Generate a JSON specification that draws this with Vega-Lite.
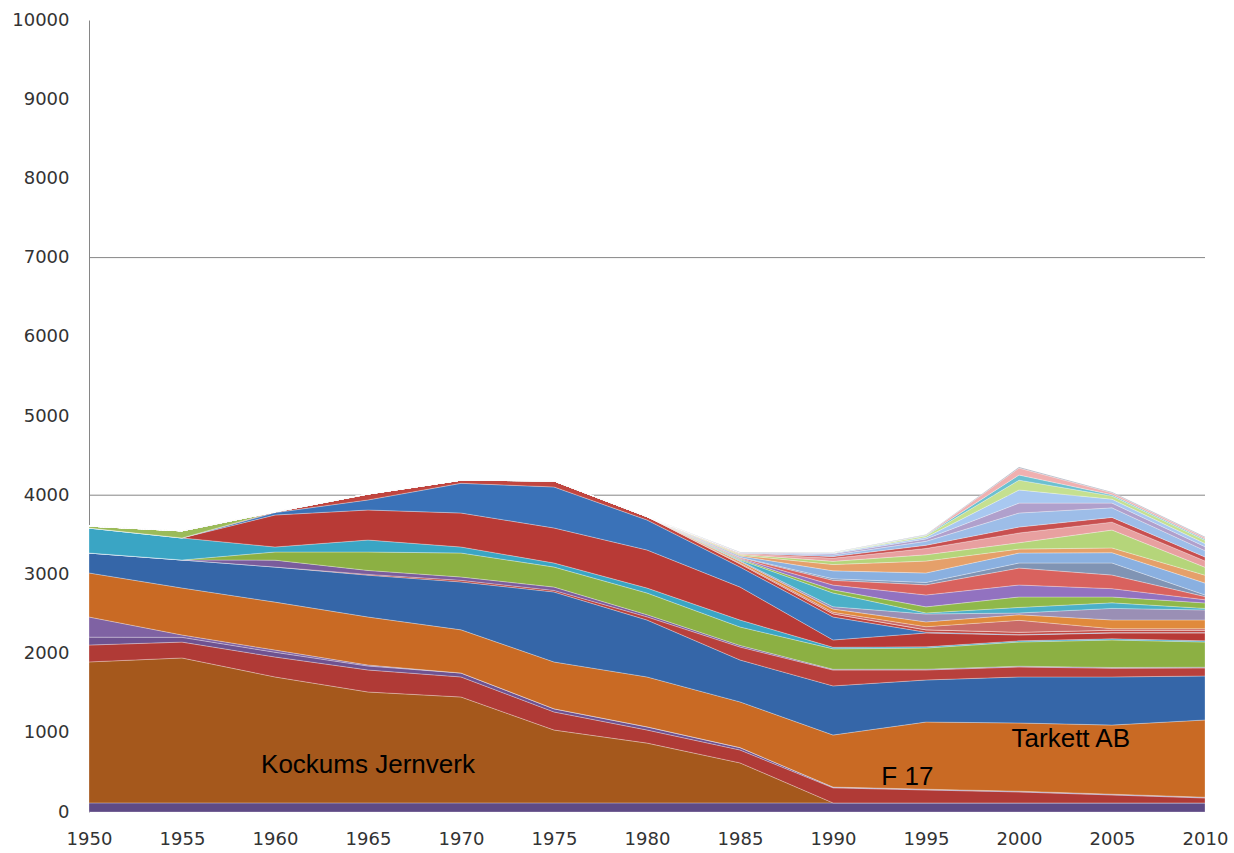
{
 "$schema": "https://vega.github.io/schema/vega-lite/v6.json",
 "width": 1116, "height": 792,
 "autosize": "none",
 "padding": {"left": 89, "top": 20, "right": 29, "bottom": 41},
 "background": "white",
 "config": {"view": {"stroke": null}, "font": "DejaVu Sans"},
 "layer": [
  {
   "data": {"values": [{"v": 4000}, {"v": 7000}]},
   "mark": {"type": "rule", "color": "#868686", "strokeWidth": 1},
   "encoding": {"y": {"field": "v", "type": "quantitative", "title": null, "scale": {"domain": [0, 10000], "nice": false}}}
  },
  {
   "data": {"values": [
{"k":1,"x":1950,"v":115},{"k":1,"x":1955,"v":115},{"k":1,"x":1960,"v":115},{"k":1,"x":1965,"v":115},{"k":1,"x":1970,"v":115},{"k":1,"x":1975,"v":115},{"k":1,"x":1980,"v":115},{"k":1,"x":1985,"v":115},{"k":1,"x":1990,"v":115},{"k":1,"x":1995,"v":115},{"k":1,"x":2000,"v":115},{"k":1,"x":2005,"v":115},{"k":1,"x":2010,"v":115},
{"k":2,"x":1950,"v":1780},{"k":2,"x":1955,"v":1830},{"k":2,"x":1960,"v":1590},{"k":2,"x":1965,"v":1400},{"k":2,"x":1970,"v":1337},{"k":2,"x":1975,"v":920},{"k":2,"x":1980,"v":755},{"k":2,"x":1985,"v":505},{"k":2,"x":1990,"v":0},{"k":2,"x":1995,"v":0},{"k":2,"x":2000,"v":0},{"k":2,"x":2005,"v":0},{"k":2,"x":2010,"v":0},
{"k":3,"x":1950,"v":213},{"k":3,"x":1955,"v":200},{"k":3,"x":1960,"v":252},{"k":3,"x":1965,"v":278},{"k":3,"x":1970,"v":253},{"k":3,"x":1975,"v":228},{"k":3,"x":1980,"v":165},{"k":3,"x":1985,"v":163},{"k":3,"x":1990,"v":190},{"k":3,"x":1995,"v":163},{"k":3,"x":2000,"v":138},{"k":3,"x":2005,"v":100},{"k":3,"x":2010,"v":62},
{"k":4,"x":1950,"v":100},{"k":4,"x":1955,"v":60},{"k":4,"x":1960,"v":60},{"k":4,"x":1965,"v":50},{"k":4,"x":1970,"v":50},{"k":4,"x":1975,"v":40},{"k":4,"x":1980,"v":40},{"k":4,"x":1985,"v":30},{"k":4,"x":1990,"v":10},{"k":4,"x":1995,"v":10},{"k":4,"x":2000,"v":10},{"k":4,"x":2005,"v":10},{"k":4,"x":2010,"v":10},
{"k":5,"x":1950,"v":254},{"k":5,"x":1955,"v":30},{"k":5,"x":1960,"v":28},{"k":5,"x":1965,"v":13},{"k":5,"x":1970,"v":0},{"k":5,"x":1975,"v":0},{"k":5,"x":1980,"v":0},{"k":5,"x":1985,"v":0},{"k":5,"x":1990,"v":0},{"k":5,"x":1995,"v":0},{"k":5,"x":2000,"v":0},{"k":5,"x":2005,"v":0},{"k":5,"x":2010,"v":0},
{"k":6,"x":1950,"v":556},{"k":6,"x":1955,"v":593},{"k":6,"x":1960,"v":605},{"k":6,"x":1965,"v":606},{"k":6,"x":1970,"v":545},{"k":6,"x":1975,"v":591},{"k":6,"x":1980,"v":630},{"k":6,"x":1985,"v":577},{"k":6,"x":1990,"v":657},{"k":6,"x":1995,"v":848},{"k":6,"x":2000,"v":861},{"k":6,"x":2005,"v":873},{"k":6,"x":2010,"v":975},
{"k":7,"x":1950,"v":252},{"k":7,"x":1955,"v":354},{"k":7,"x":1960,"v":443},{"k":7,"x":1965,"v":528},{"k":7,"x":1970,"v":605},{"k":7,"x":1975,"v":884},{"k":7,"x":1980,"v":719},{"k":7,"x":1985,"v":529},{"k":7,"x":1990,"v":620},{"k":7,"x":1995,"v":531},{"k":7,"x":2000,"v":581},{"k":7,"x":2005,"v":607},{"k":7,"x":2010,"v":555},
{"k":8,"x":1950,"v":0},{"k":8,"x":1955,"v":0},{"k":8,"x":1960,"v":0},{"k":8,"x":1965,"v":10},{"k":8,"x":1970,"v":20},{"k":8,"x":1975,"v":20},{"k":8,"x":1980,"v":40},{"k":8,"x":1985,"v":164},{"k":8,"x":1990,"v":200},{"k":8,"x":1995,"v":126},{"k":8,"x":2000,"v":126},{"k":8,"x":2005,"v":110},{"k":8,"x":2010,"v":101},
{"k":9,"x":1950,"v":0},{"k":9,"x":1955,"v":0},{"k":9,"x":1960,"v":87},{"k":9,"x":1965,"v":50},{"k":9,"x":1970,"v":42},{"k":9,"x":1975,"v":42},{"k":9,"x":1980,"v":26},{"k":9,"x":1985,"v":20},{"k":9,"x":1990,"v":10},{"k":9,"x":1995,"v":10},{"k":9,"x":2000,"v":10},{"k":9,"x":2005,"v":10},{"k":9,"x":2010,"v":10},
{"k":10,"x":1950,"v":0},{"k":10,"x":1955,"v":0},{"k":10,"x":1960,"v":103},{"k":10,"x":1965,"v":233},{"k":10,"x":1970,"v":303},{"k":10,"x":1975,"v":253},{"k":10,"x":1980,"v":275},{"k":10,"x":1985,"v":233},{"k":10,"x":1990,"v":258},{"k":10,"x":1995,"v":267},{"k":10,"x":2000,"v":305},{"k":10,"x":2005,"v":347},{"k":10,"x":2010,"v":318},
{"k":11,"x":1950,"v":315},{"k":11,"x":1955,"v":278},{"k":11,"x":1960,"v":63},{"k":11,"x":1965,"v":151},{"k":11,"x":1970,"v":76},{"k":11,"x":1975,"v":51},{"k":11,"x":1980,"v":63},{"k":11,"x":1985,"v":88},{"k":11,"x":1990,"v":20},{"k":11,"x":1995,"v":15},{"k":11,"x":2000,"v":15},{"k":11,"x":2005,"v":15},{"k":11,"x":2010,"v":15},
{"k":12,"x":1950,"v":0},{"k":12,"x":1955,"v":0},{"k":12,"x":1960,"v":404},{"k":12,"x":1965,"v":379},{"k":12,"x":1970,"v":429},{"k":12,"x":1975,"v":442},{"k":12,"x":1980,"v":480},{"k":12,"x":1985,"v":416},{"k":12,"x":1990,"v":92},{"k":12,"x":1995,"v":175},{"k":12,"x":2000,"v":74},{"k":12,"x":2005,"v":73},{"k":12,"x":2010,"v":99},
{"k":13,"x":1950,"v":0},{"k":13,"x":1955,"v":0},{"k":13,"x":1960,"v":30},{"k":13,"x":1965,"v":127},{"k":13,"x":1970,"v":375},{"k":13,"x":1975,"v":518},{"k":13,"x":1980,"v":379},{"k":13,"x":1985,"v":253},{"k":13,"x":1990,"v":290},{"k":13,"x":1995,"v":10},{"k":13,"x":2000,"v":5},{"k":13,"x":2005,"v":5},{"k":13,"x":2010,"v":5},
{"k":14,"x":1950,"v":0},{"k":14,"x":1955,"v":0},{"k":14,"x":1960,"v":10},{"k":14,"x":1965,"v":75},{"k":14,"x":1970,"v":40},{"k":14,"x":1975,"v":76},{"k":14,"x":1980,"v":43},{"k":14,"x":1985,"v":40},{"k":14,"x":1990,"v":40},{"k":14,"x":1995,"v":30},{"k":14,"x":2000,"v":30},{"k":14,"x":2005,"v":30},{"k":14,"x":2010,"v":30},
{"k":15,"x":1950,"v":25},{"k":15,"x":1955,"v":90},{"k":15,"x":1960,"v":0},{"k":15,"x":1965,"v":0},{"k":15,"x":1970,"v":0},{"k":15,"x":1975,"v":0},{"k":15,"x":1980,"v":0},{"k":15,"x":1985,"v":0},{"k":15,"x":1990,"v":0},{"k":15,"x":1995,"v":0},{"k":15,"x":2000,"v":0},{"k":15,"x":2005,"v":0},{"k":15,"x":2010,"v":0},
{"k":16,"x":1950,"v":0},{"k":16,"x":1955,"v":0},{"k":16,"x":1960,"v":0},{"k":16,"x":1965,"v":0},{"k":16,"x":1970,"v":0},{"k":16,"x":1975,"v":0},{"k":16,"x":1980,"v":0},{"k":16,"x":1985,"v":10},{"k":16,"x":1990,"v":20},{"k":16,"x":1995,"v":40},{"k":16,"x":2000,"v":150},{"k":16,"x":2005,"v":20},{"k":16,"x":2010,"v":20},
{"k":17,"x":1950,"v":0},{"k":17,"x":1955,"v":0},{"k":17,"x":1960,"v":0},{"k":17,"x":1965,"v":0},{"k":17,"x":1970,"v":0},{"k":17,"x":1975,"v":0},{"k":17,"x":1980,"v":0},{"k":17,"x":1985,"v":20},{"k":17,"x":1990,"v":40},{"k":17,"x":1995,"v":60},{"k":17,"x":2000,"v":70},{"k":17,"x":2005,"v":110},{"k":17,"x":2010,"v":110},
{"k":18,"x":1950,"v":0},{"k":18,"x":1955,"v":0},{"k":18,"x":1960,"v":0},{"k":18,"x":1965,"v":0},{"k":18,"x":1970,"v":0},{"k":18,"x":1975,"v":0},{"k":18,"x":1980,"v":0},{"k":18,"x":1985,"v":10},{"k":18,"x":1990,"v":30},{"k":18,"x":1995,"v":100},{"k":18,"x":2000,"v":23},{"k":18,"x":2005,"v":146},{"k":18,"x":2010,"v":126},
{"k":19,"x":1950,"v":0},{"k":19,"x":1955,"v":0},{"k":19,"x":1960,"v":0},{"k":19,"x":1965,"v":0},{"k":19,"x":1970,"v":0},{"k":19,"x":1975,"v":0},{"k":19,"x":1980,"v":0},{"k":19,"x":1985,"v":10},{"k":19,"x":1990,"v":173},{"k":19,"x":1995,"v":13},{"k":19,"x":2000,"v":70},{"k":19,"x":2005,"v":70},{"k":19,"x":2010,"v":20},
{"k":20,"x":1950,"v":0},{"k":20,"x":1955,"v":0},{"k":20,"x":1960,"v":0},{"k":20,"x":1965,"v":0},{"k":20,"x":1970,"v":0},{"k":20,"x":1975,"v":0},{"k":20,"x":1980,"v":0},{"k":20,"x":1985,"v":10},{"k":20,"x":1990,"v":40},{"k":20,"x":1995,"v":77},{"k":20,"x":2000,"v":132},{"k":20,"x":2005,"v":74},{"k":20,"x":2010,"v":69},
{"k":21,"x":1950,"v":0},{"k":21,"x":1955,"v":0},{"k":21,"x":1960,"v":0},{"k":21,"x":1965,"v":0},{"k":21,"x":1970,"v":0},{"k":21,"x":1975,"v":0},{"k":21,"x":1980,"v":0},{"k":21,"x":1985,"v":10},{"k":21,"x":1990,"v":60},{"k":21,"x":1995,"v":150},{"k":21,"x":2000,"v":151},{"k":21,"x":2005,"v":105},{"k":21,"x":2010,"v":40},
{"k":22,"x":1950,"v":0},{"k":22,"x":1955,"v":0},{"k":22,"x":1960,"v":0},{"k":22,"x":1965,"v":0},{"k":22,"x":1970,"v":0},{"k":22,"x":1975,"v":0},{"k":22,"x":1980,"v":0},{"k":22,"x":1985,"v":10},{"k":22,"x":1990,"v":60},{"k":22,"x":1995,"v":128},{"k":22,"x":2000,"v":214},{"k":22,"x":2005,"v":172},{"k":22,"x":2010,"v":40},
{"k":23,"x":1950,"v":0},{"k":23,"x":1955,"v":0},{"k":23,"x":1960,"v":0},{"k":23,"x":1965,"v":0},{"k":23,"x":1970,"v":0},{"k":23,"x":1975,"v":0},{"k":23,"x":1980,"v":0},{"k":23,"x":1985,"v":5},{"k":23,"x":1990,"v":20},{"k":23,"x":1995,"v":30},{"k":23,"x":2000,"v":64},{"k":23,"x":2005,"v":152},{"k":23,"x":2010,"v":20},
{"k":24,"x":1950,"v":0},{"k":24,"x":1955,"v":0},{"k":24,"x":1960,"v":0},{"k":24,"x":1965,"v":0},{"k":24,"x":1970,"v":0},{"k":24,"x":1975,"v":0},{"k":24,"x":1980,"v":0},{"k":24,"x":1985,"v":15},{"k":24,"x":1990,"v":100},{"k":24,"x":1995,"v":120},{"k":24,"x":2000,"v":126},{"k":24,"x":2005,"v":130},{"k":24,"x":2010,"v":150},
{"k":25,"x":1950,"v":0},{"k":25,"x":1955,"v":0},{"k":25,"x":1960,"v":0},{"k":25,"x":1965,"v":0},{"k":25,"x":1970,"v":0},{"k":25,"x":1975,"v":0},{"k":25,"x":1980,"v":0},{"k":25,"x":1985,"v":10},{"k":25,"x":1990,"v":80},{"k":25,"x":1995,"v":150},{"k":25,"x":2000,"v":50},{"k":25,"x":2005,"v":60},{"k":25,"x":2010,"v":100},
{"k":26,"x":1950,"v":0},{"k":26,"x":1955,"v":0},{"k":26,"x":1960,"v":0},{"k":26,"x":1965,"v":0},{"k":26,"x":1970,"v":0},{"k":26,"x":1975,"v":0},{"k":26,"x":1980,"v":0},{"k":26,"x":1985,"v":10},{"k":26,"x":1990,"v":40},{"k":26,"x":1995,"v":80},{"k":26,"x":2000,"v":80},{"k":26,"x":2005,"v":226},{"k":26,"x":2010,"v":100},
{"k":27,"x":1950,"v":0},{"k":27,"x":1955,"v":0},{"k":27,"x":1960,"v":0},{"k":27,"x":1965,"v":0},{"k":27,"x":1970,"v":0},{"k":27,"x":1975,"v":0},{"k":27,"x":1980,"v":0},{"k":27,"x":1985,"v":10},{"k":27,"x":1990,"v":40},{"k":27,"x":1995,"v":80},{"k":27,"x":2000,"v":123},{"k":27,"x":2005,"v":100},{"k":27,"x":2010,"v":80},
{"k":28,"x":1950,"v":0},{"k":28,"x":1955,"v":0},{"k":28,"x":1960,"v":0},{"k":28,"x":1965,"v":0},{"k":28,"x":1970,"v":0},{"k":28,"x":1975,"v":0},{"k":28,"x":1980,"v":0},{"k":28,"x":1985,"v":5},{"k":28,"x":1990,"v":20},{"k":28,"x":1995,"v":40},{"k":28,"x":2000,"v":75},{"k":28,"x":2005,"v":60},{"k":28,"x":2010,"v":50},
{"k":29,"x":1950,"v":0},{"k":29,"x":1955,"v":0},{"k":29,"x":1960,"v":0},{"k":29,"x":1965,"v":0},{"k":29,"x":1970,"v":0},{"k":29,"x":1975,"v":0},{"k":29,"x":1980,"v":0},{"k":29,"x":1985,"v":5},{"k":29,"x":1990,"v":20},{"k":29,"x":1995,"v":50},{"k":29,"x":2000,"v":177},{"k":29,"x":2005,"v":120},{"k":29,"x":2010,"v":80},
{"k":30,"x":1950,"v":0},{"k":30,"x":1955,"v":0},{"k":30,"x":1960,"v":0},{"k":30,"x":1965,"v":0},{"k":30,"x":1970,"v":0},{"k":30,"x":1975,"v":0},{"k":30,"x":1980,"v":0},{"k":30,"x":1985,"v":5},{"k":30,"x":1990,"v":15},{"k":30,"x":1995,"v":30},{"k":30,"x":2000,"v":125},{"k":30,"x":2005,"v":60},{"k":30,"x":2010,"v":50},
{"k":31,"x":1950,"v":0},{"k":31,"x":1955,"v":0},{"k":31,"x":1960,"v":0},{"k":31,"x":1965,"v":0},{"k":31,"x":1970,"v":0},{"k":31,"x":1975,"v":0},{"k":31,"x":1980,"v":0},{"k":31,"x":1985,"v":0},{"k":31,"x":1990,"v":10},{"k":31,"x":1995,"v":20},{"k":31,"x":2000,"v":166},{"k":31,"x":2005,"v":50},{"k":31,"x":2010,"v":40},
{"k":32,"x":1950,"v":0},{"k":32,"x":1955,"v":0},{"k":32,"x":1960,"v":0},{"k":32,"x":1965,"v":0},{"k":32,"x":1970,"v":0},{"k":32,"x":1975,"v":0},{"k":32,"x":1980,"v":0},{"k":32,"x":1985,"v":0},{"k":32,"x":1990,"v":5},{"k":32,"x":1995,"v":20},{"k":32,"x":2000,"v":124},{"k":32,"x":2005,"v":40},{"k":32,"x":2010,"v":40},
{"k":33,"x":1950,"v":0},{"k":33,"x":1955,"v":0},{"k":33,"x":1960,"v":0},{"k":33,"x":1965,"v":0},{"k":33,"x":1970,"v":0},{"k":33,"x":1975,"v":0},{"k":33,"x":1980,"v":0},{"k":33,"x":1985,"v":0},{"k":33,"x":1990,"v":0},{"k":33,"x":1995,"v":5},{"k":33,"x":2000,"v":65},{"k":33,"x":2005,"v":15},{"k":33,"x":2010,"v":15},
{"k":34,"x":1950,"v":0},{"k":34,"x":1955,"v":0},{"k":34,"x":1960,"v":0},{"k":34,"x":1965,"v":0},{"k":34,"x":1970,"v":0},{"k":34,"x":1975,"v":0},{"k":34,"x":1980,"v":0},{"k":34,"x":1985,"v":0},{"k":34,"x":1990,"v":0},{"k":34,"x":1995,"v":5},{"k":34,"x":2000,"v":88},{"k":34,"x":2005,"v":25},{"k":34,"x":2010,"v":20},
{"k":35,"x":1950,"v":0},{"k":35,"x":1955,"v":0},{"k":35,"x":1960,"v":0},{"k":35,"x":1965,"v":0},{"k":35,"x":1970,"v":0},{"k":35,"x":1975,"v":0},{"k":35,"x":1980,"v":0},{"k":35,"x":1985,"v":5},{"k":35,"x":1990,"v":5},{"k":35,"x":1995,"v":5},{"k":35,"x":2000,"v":13},{"k":35,"x":2005,"v":10},{"k":35,"x":2010,"v":10}
   ]},
   "mark": {"type": "area", "stroke": "#ffffff", "strokeOpacity": 0.28, "strokeWidth": 1},
   "encoding": {
    "x": {"field": "x", "type": "quantitative", "scale": {"domain": [1950, 2010], "nice": false, "zero": false},
          "axis": {"values": [1950,1955,1960,1965,1970,1975,1980,1985,1990,1995,2000,2005,2010], "format": "d", "grid": false, "ticks": false, "domain": false, "labelFlush": false, "labelFontSize": 18, "labelPadding": 18, "labelColor": "#333333", "labelFont": "DejaVu Sans", "title": null}},
    "y": {"field": "v", "type": "quantitative", "stack": "zero", "scale": {"domain": [0, 10000], "nice": false},
          "axis": {"values": [0,1000,2000,3000,4000,5000,6000,7000,8000,9000,10000], "format": "d", "grid": false, "ticks": false, "domain": true, "domainColor": "#868686", "labelFontSize": 18, "labelPadding": 20, "labelColor": "#333333", "labelFont": "DejaVu Sans", "title": null}},
    "color": {"field": "k", "type": "nominal", "legend": null,
      "scale": {"domain": [1,2,3,4,5,6,7,8,9,10,11,12,13,14,15,16,17,18,19,20,21,22,23,24,25,26,27,28,29,30,31,32,33,34,35],
                "range": ["#5E4A85","#A5581C","#B03A36","#6E5290","#7F62A3","#C96A24","#3566A8","#B8403C","#7A5C9C","#8CB043","#3AA5C4","#B83A36","#3A72B8","#C0453F","#9BBB59","#C96B68","#E08A3C","#9A8FB5","#4BB0C8","#8FB84A","#9272C0","#D9625E","#8094B4","#8AB0E0","#E5A06A","#B5D57A","#E8A0A0","#C85050","#9DBDE8","#B0A0CC","#A8C8F0","#C5E090","#6CC0D0","#F0B0B0","#A0A8B8"]}},
    "order": {"field": "k", "type": "quantitative", "sort": "ascending"}
   }
  },
  {
   "data": {"values": [
     {"t": "Kockums Jernverk", "x": 1959.25, "v": 492},
     {"t": "F 17", "x": 1992.6, "v": 341},
     {"t": "Tarkett AB", "x": 1999.6, "v": 821}
   ]},
   "mark": {"type": "text", "font": "Liberation Sans", "fontSize": 26, "align": "left", "baseline": "alphabetic", "color": "#000000"},
   "encoding": {
    "x": {"field": "x", "type": "quantitative", "title": null},
    "y": {"field": "v", "type": "quantitative", "title": null},
    "text": {"field": "t", "type": "nominal"}
   }
  }
 ]
}
